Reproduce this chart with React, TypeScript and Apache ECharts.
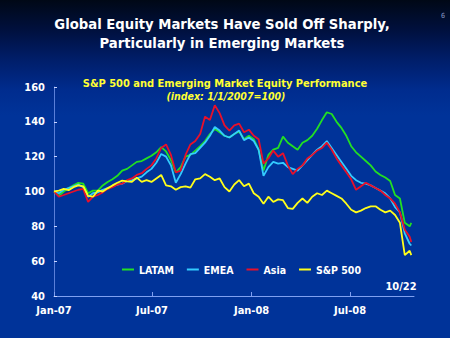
import React, { useEffect, useRef } from "react";
import * as echarts from "echarts";

const dates = [
  "2007-01-01", "2007-01-10", "2007-01-19", "2007-01-28", "2007-02-06", "2007-02-15", "2007-02-24",
  "2007-03-05", "2007-03-14", "2007-03-23", "2007-04-01", "2007-04-10", "2007-04-19", "2007-04-28",
  "2007-05-07", "2007-05-16", "2007-05-25", "2007-06-03", "2007-06-12", "2007-06-21", "2007-06-30",
  "2007-07-09", "2007-07-18", "2007-07-27", "2007-08-05", "2007-08-14", "2007-08-23", "2007-09-01",
  "2007-09-10", "2007-09-19", "2007-09-28", "2007-10-07", "2007-10-16", "2007-10-25", "2007-11-03",
  "2007-11-12", "2007-11-21", "2007-11-30", "2007-12-09", "2007-12-18", "2007-12-27", "2008-01-05",
  "2008-01-14", "2008-01-23", "2008-02-01", "2008-02-10", "2008-02-19", "2008-02-28", "2008-03-08",
  "2008-03-17", "2008-03-26", "2008-04-04", "2008-04-13", "2008-04-22", "2008-05-01", "2008-05-10",
  "2008-05-19", "2008-05-28", "2008-06-06", "2008-06-15", "2008-06-24", "2008-07-03", "2008-07-12",
  "2008-07-21", "2008-07-30", "2008-08-08", "2008-08-17", "2008-08-26", "2008-09-04", "2008-09-13",
  "2008-09-22", "2008-10-01", "2008-10-10", "2008-10-19", "2008-10-22",
];

const latam = [
  100, 97.5, 100, 102, 103.5, 105, 104.5, 99, 100.5, 100.5, 103.5, 105.5, 107, 109, 112, 113, 115, 117,
  117.5, 119, 120.5, 122.5, 125.5, 123, 118, 111, 114, 120, 121, 123.5, 126, 129, 133, 136, 134, 132,
  131, 133, 134.5, 130, 132, 130, 124, 112, 121, 124, 125, 131.5, 128, 126, 124, 128, 129.5, 132, 136,
  141, 145.5, 144.5, 140, 136.5, 132, 126, 122.5, 120, 117.5, 115, 111.5, 109.5, 108, 106, 98, 96, 82,
  80, 82,
];

const emea = [
  100, 99, 101, 102, 103, 104, 102.5, 97, 99, 99.5, 101, 102, 103, 104, 104.5, 106, 106.5, 107.5, 108.5,
  111, 113, 116.5, 121.5, 120, 115, 105, 110, 116, 121.5, 122, 125, 128, 132, 137, 135, 132, 131, 133,
  135, 129.5, 131, 129, 124, 109, 114, 117, 116, 116.5, 114, 113, 112, 115, 118, 121, 124, 126, 129, 125,
  121, 117, 113, 109, 106.5, 105, 104.5, 103.5, 102, 100.5, 99, 96, 91, 88, 76, 70, 69,
];

const asia = [
  100, 97, 98, 99, 100, 101, 101.5, 94, 97, 98, 99.5, 101.5, 102.5, 104, 104.5, 106.5, 107.5, 109.5,
  110.5, 113, 115, 119, 125, 127, 121, 111, 112, 121, 127, 129, 133, 143, 141, 149.5, 145, 138, 135, 138,
  139, 134, 135.5, 132, 130, 116, 119, 123.5, 120, 122, 115, 110, 113, 115, 119, 121, 123.5, 125, 128,
  124, 119, 115, 111, 107, 101, 103, 105, 103.5, 102, 100.5, 98, 96, 93, 88, 78, 74, 71,
];

const sp500 = [
  100, 100.5, 101.5, 100.8, 102.5, 103.5, 103, 97.5, 97, 100.5, 100, 101.8, 103.5, 105, 106.2, 105.8,
  105.5, 108, 105.5, 106.5, 105.5, 107.5, 109.5, 103.5, 103, 101, 102.5, 103, 102.2, 107, 107.5, 110,
  108.5, 106.5, 107.5, 102.5, 100, 104, 106.5, 103, 104.5, 99, 97, 93, 97, 94, 95.5, 95, 90.5, 90, 93.5,
  96, 93.5, 97, 99, 98, 100.5, 99, 97.5, 96, 93, 89.5, 88, 89, 90.5, 91.5, 91.5, 89.5, 88, 89, 86.5, 82,
  63.5, 66, 63.5,
];

const seriesNames = ["LATAM", "EMEA", "Asia", "S&P 500"];
const xTickDates = ["2007-01-01", "2007-07-01", "2008-01-01", "2008-07-01"];
const monthNames = ["Jan", "Feb", "Mar", "Apr", "May", "Jun", "Jul", "Aug", "Sep", "Oct", "Nov", "Dec"];

const FONT = '"DejaVu Sans Condensed", "DejaVu Sans", sans-serif';

function toTime(s: string): number {
  const [y, m, d] = s.split("-").map(Number);
  return new Date(y, m - 1, d).getTime();
}

export default function App() {
  const ref = useRef<HTMLDivElement>(null);

  useEffect(() => {
    if (!ref.current) return;
    const chart = echarts.init(ref.current, undefined, { renderer: "svg" });
    const allSeries = [latam, emea, asia, sp500];
    const colors = ["#22e022", "#33ccff", "#e8102a", "#ffff1a"];
    const tickVals = xTickDates.map(toTime);

    chart.setOption({
      animation: false,
      backgroundColor: "transparent",
      color: colors,
      grid: { left: 54, right: 36, top: 87, bottom: 42, containLabel: false },
      xAxis: {
        type: "value",
        min: toTime("2007-01-01"),
        max: toTime("2008-10-27"),
        axisLine: { show: true, lineStyle: { color: "#7fa0f0", width: 1 } },
        axisTick: {
          show: true,
          inside: true,
          length: 4,
          customValues: tickVals,
          lineStyle: { color: "#7fa0f0" },
        },
        axisLabel: {
          color: "#ffffff",
          fontSize: 11,
          fontWeight: "bold",
          fontFamily: FONT,
          margin: 9,
          customValues: tickVals,
          formatter: (v: number) => {
            const d = new Date(v);
            return monthNames[d.getMonth()] + "-" + String(d.getFullYear()).slice(2);
          },
        },
        splitLine: { show: false },
      },
      yAxis: {
        type: "value",
        min: 40,
        max: 160,
        interval: 20,
        axisLine: { show: true, lineStyle: { color: "#5a7fd8", width: 1 } },
        axisTick: { show: true, inside: true, length: 3, lineStyle: { color: "#c8d4ff" } },
        axisLabel: { color: "#ffffff", fontSize: 11, fontWeight: "bold", fontFamily: FONT, margin: 9 },
        splitLine: { show: false },
      },
      legend: {
        data: seriesNames,
        left: 117,
        top: 259,
        icon: "rect",
        itemWidth: 12,
        itemHeight: 2,
        itemGap: 13,
        textStyle: { color: "#ffffff", fontSize: 10.5, fontWeight: "bold", fontFamily: FONT },
      },
      series: allSeries.map((vals, k) => ({
        name: seriesNames[k],
        type: "line",
        showSymbol: false,
        symbol: "none",
        lineStyle: { width: 1.8, color: colors[k] },
        itemStyle: { color: colors[k] },
        data: dates.map((d, i) => [toTime(d), vals[i]]),
        z: 2 + k,
      })),
      graphic: [
        {
          type: "text",
          x: 222,
          y: 23,
          style: {
            text: "Global Equity Markets Have Sold Off Sharply,",
            font: "bold 14.7px " + FONT,
            fill: "#ffffff",
            textAlign: "center",
            textVerticalAlign: "middle",
          },
        },
        {
          type: "text",
          x: 222,
          y: 42,
          style: {
            text: "Particularly in Emerging Markets",
            font: "bold 14.7px " + FONT,
            fill: "#ffffff",
            textAlign: "center",
            textVerticalAlign: "middle",
          },
        },
        {
          type: "text",
          x: 225,
          y: 83,
          style: {
            text: "S&P 500 and Emerging Market Equity Performance",
            font: "bold 11px " + FONT,
            fill: "#ffff33",
            textAlign: "center",
            textVerticalAlign: "middle",
          },
        },
        {
          type: "text",
          x: 226,
          y: 96,
          style: {
            text: "(index: 1/1/2007=100)",
            font: "italic bold 10.5px " + FONT,
            fill: "#ffff33",
            textAlign: "center",
            textVerticalAlign: "middle",
          },
        },
        {
          type: "text",
          x: 401,
          y: 286,
          style: {
            text: "10/22",
            font: "bold 11px " + FONT,
            fill: "#ffffff",
            textAlign: "center",
            textVerticalAlign: "middle",
          },
        },
        {
          type: "text",
          x: 443,
          y: 16,
          style: {
            text: "6",
            font: "7px " + FONT,
            fill: "#8a9cc8",
            textAlign: "center",
            textVerticalAlign: "middle",
          },
        },
      ],
    });

    return () => chart.dispose();
  }, []);

  return (
    <div
      style={{
        position: "fixed",
        left: 0,
        top: 0,
        width: 450,
        height: 338,
        background:
          "linear-gradient(to bottom, #000816 0px, #00103e 30px, #001e6a 60px, #002c8e 90px, #003399 115px, #003399 338px)",
      }}
    >
      <div ref={ref} style={{ width: 450, height: 338 }} />
    </div>
  );
}
